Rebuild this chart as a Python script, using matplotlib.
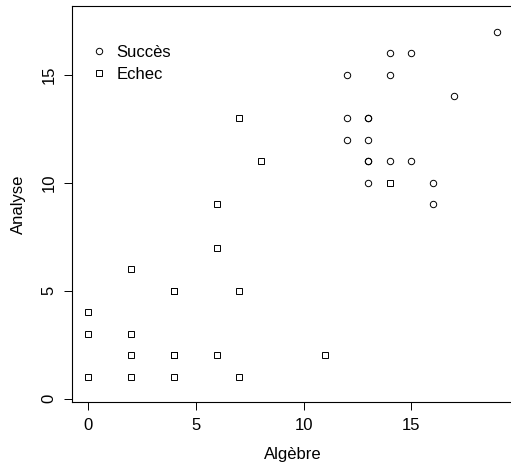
"""
Scatter plot of Analyse vs Algebre marks, split by exam result (Succès / Echec).
"""

import matplotlib
matplotlib.use("Agg")
import matplotlib.pyplot as plt

plt.rcParams["font.family"] = ["Liberation Sans", "DejaVu Sans"]

# Data (duplicates are drawn twice, as in the original)
succes_algebre = [19, 14, 15, 12, 14, 17, 12, 13, 13, 12, 13, 13, 13, 14, 15, 13, 16, 16]
succes_analyse = [17, 16, 16, 15, 15, 14, 13, 13, 13, 12, 12, 11, 11, 11, 11, 10, 10, 9]

echec_algebre = [14, 7, 8, 6, 6, 2, 4, 4, 7, 0, 0, 2, 2, 4, 4, 6, 11, 0, 2, 4, 7]
echec_analyse = [10, 13, 11, 9, 7, 6, 5, 5, 5, 4, 3, 3, 2, 2, 2, 2, 2, 1, 1, 1, 1]

x_ticks = [0, 5, 10, 15]
y_ticks = [0, 5, 10, 15]

fs = 12

fig = plt.figure(figsize=(5.11, 4.65), dpi=100)
# right edge of the plot box falls just outside the picture, as in the reference
ax = fig.add_axes([0.1403, 0.1348, 0.8657, 0.8517])

ax.plot(succes_algebre, succes_analyse, linestyle="none", marker="o",
        markersize=4.6, markerfacecolor="none", markeredgecolor="black",
        markeredgewidth=0.7, label="Succès")
ax.plot(echec_algebre, echec_analyse, linestyle="none", marker="s",
        markersize=4.2, markerfacecolor="none", markeredgecolor="black",
        markeredgewidth=0.7, label="Echec")

ax.set_xlim(-0.77, 19.77)
ax.set_ylim(-0.17, 18.18)
ax.set_xticks(x_ticks)
ax.set_yticks(y_ticks)
ax.tick_params(axis="both", direction="out", length=5.6, width=0.7,
               labelsize=fs, pad=5.5)
for lab in ax.get_yticklabels():
    lab.set_rotation(90)
    lab.set_va("center")

for side in ax.spines.values():
    side.set_linewidth(0.8)

ax.set_xlabel("Algèbre", fontsize=fs, labelpad=10.5)
ax.set_ylabel("Analyse", fontsize=fs, labelpad=11)

ax.legend(loc="center left", bbox_to_anchor=(0.044, 0.855), frameon=False,
          fontsize=fs, handlelength=1.0, handletextpad=0.5,
          labelspacing=0.42, borderaxespad=0, borderpad=0)

plt.savefig("out.png", dpi=100)
plt.close()
